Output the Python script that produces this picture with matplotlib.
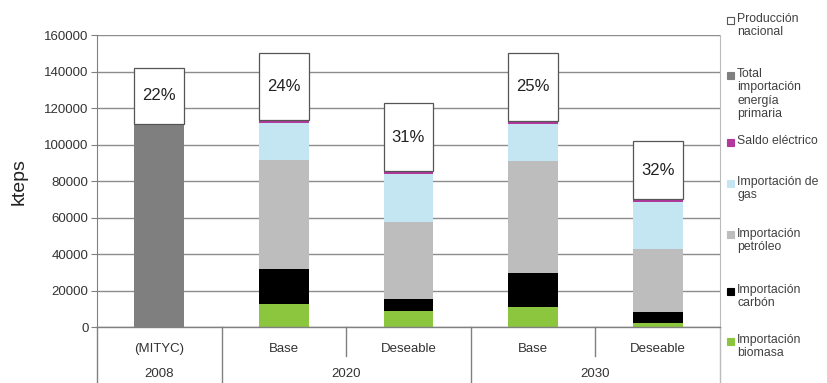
import matplotlib
matplotlib.use("Agg")
import matplotlib.pyplot as plt
import matplotlib.transforms as mtransforms
from matplotlib.patches import Rectangle
import numpy as np

plt.rcParams['font.family'] = ['Liberation Sans', 'DejaVu Sans']

# data (kteps)
sub_labels = ["(MITYC)", "Base", "Deseable", "Base", "Deseable"]
group_labels = ["2008", "2020", "2030"]
group_sizes = [1, 2, 2]

biomasa = [0, 13000, 9000, 11300, 2500]
carbon = [0, 18900, 6300, 18600, 6000]
petroleo = [0, 59600, 42500, 61100, 34200]
gas = [0, 20500, 25900, 20500, 25800]
saldo = [0, 1600, 1600, 1600, 1600]
total_import = [111300, 0, 0, 0, 0]
produccion = [30700, 36400, 37700, 36900, 32000]
pct_labels = ["22%", "24%", "31%", "25%", "32%"]

series = [
    ("Importación\nbiomasa", biomasa, "#8cc63e"),
    ("Importación\ncarbón", carbon, "#000000"),
    ("Importación\npetróleo", petroleo, "#bdbdbd"),
    ("Importación de\ngas", gas, "#c4e6f3"),
    ("Saldo eléctrico", saldo, "#b3389e"),
    ("Total\nimportación\nenergía\nprimaria", total_import, "#7f7f7f"),
]

fig = plt.figure(figsize=(8.27, 3.83), dpi=100)
ax = fig.add_axes([97 / 827, 1 - 327.3 / 383, (720 - 97) / 827, (327.3 - 35) / 383])

x = np.arange(len(sub_labels))
w = 0.4
bottom = np.zeros(len(x))
for name, vals, col in series:
    ax.bar(x, vals, w, bottom=bottom, color=col, linewidth=0, zorder=3)
    bottom += np.array(vals)

ax.bar(x, produccion, w, bottom=bottom, color="white", edgecolor="#555555",
       linewidth=0.9, zorder=3)
for i in range(len(x)):
    ax.text(x[i], bottom[i] + produccion[i] / 2, pct_labels[i], ha="center",
            va="center", fontsize=12, color="#222222", zorder=4)

ax.set_xlim(-0.5, len(x) - 0.5)
ax.set_ylim(0, 160000)
ax.set_yticks(np.arange(0, 160001, 20000))
ax.yaxis.grid(True, color="#8c8c8c", linewidth=1.0, zorder=0)
ax.tick_params(axis="y", length=4, color="#808080", labelsize=9.5,
               labelcolor="#333333", pad=2)
ax.set_xticks([])
for s in ["top", "bottom"]:
    ax.spines[s].set_visible(False)
ax.spines["left"].set_color("#808080")
ax.spines["right"].set_color("#bbbbbb")
ax.set_ylabel("kteps", fontsize=14, color="#222222", labelpad=12)

# multi-level category axis
trans = mtransforms.blended_transform_factory(ax.transData, ax.transAxes)
ybot = -0.19
ax.plot([-0.5, len(x) - 0.5], [0, 0], transform=trans, color="#808080",
        linewidth=1.0, clip_on=False, zorder=4)
ax.plot([-0.5, -0.5], [0, ybot], transform=trans, color="#808080",
        linewidth=1.0, clip_on=False)
ax.plot([len(x) - 0.5, len(x) - 0.5], [0, ybot], transform=trans,
        color="#bbbbbb", linewidth=1.0, clip_on=False)
start = 0
for gi, (g, n) in enumerate(zip(group_labels, group_sizes)):
    ax.text(start + (n - 1) / 2, -0.16, g, transform=trans, ha="center",
            va="center", fontsize=9.5, color="#333333")
    for k in range(1, n):
        ax.plot([start + k - 0.5] * 2, [0, -0.098], transform=trans,
                color="#808080", linewidth=1.0, clip_on=False)
    if gi > 0:
        ax.plot([start - 0.5] * 2, [0, ybot], transform=trans,
                color="#808080", linewidth=1.0, clip_on=False)
    start += n
for i, lab in enumerate(sub_labels):
    ax.text(x[i], -0.074, lab, transform=trans, ha="center", va="center",
            fontsize=9.5, color="#333333")

# legend drawn by hand so the marker sits on the first line
legend_items = [("Producción\nnacional", "white")] + \
    [(name, col) for name, vals, col in series[::-1]]
legend_y = [20, 75, 142, 183, 235, 291, 341]
for (name, col), yy in zip(legend_items, legend_y):
    fy = 1 - yy / 383
    fig.patches.append(Rectangle((727 / 827, fy - 3.5 / 383), 7 / 827, 7 / 383,
                                 transform=fig.transFigure, facecolor=col,
                                 edgecolor="#555555" if col == "white" else col,
                                 linewidth=0.8))
    fig.text(737 / 827, fy + 7 / 383, name, ha="left", va="top", fontsize=8.8,
             color="#404040", linespacing=1.15)

fig.savefig("out.png", dpi=100)
